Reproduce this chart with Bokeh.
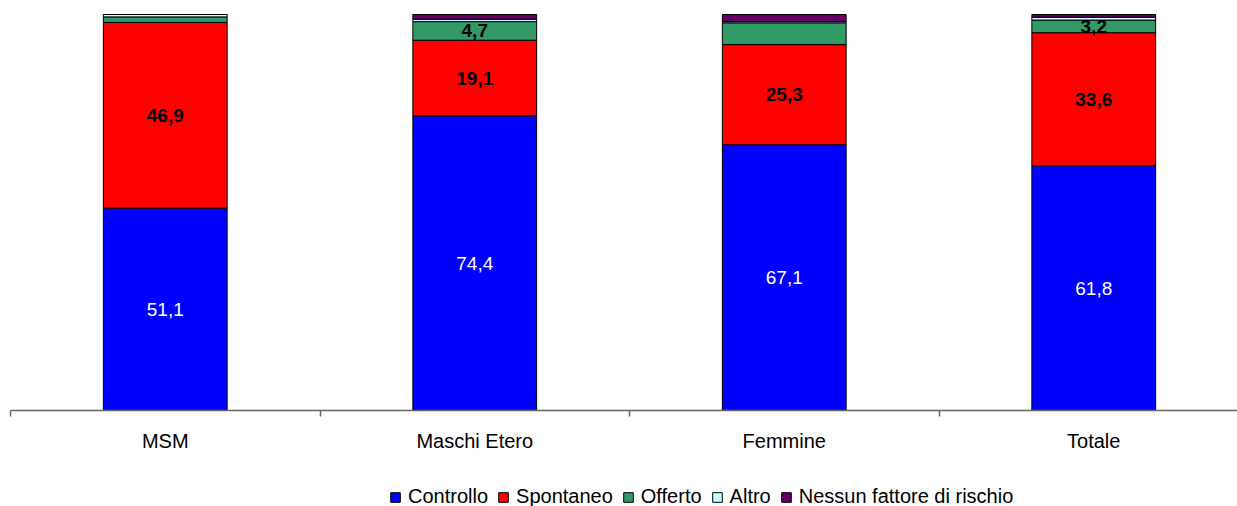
from bokeh.plotting import figure
from bokeh.layouts import column
from bokeh.models import ColumnDataSource, Range1d, FixedTicker, Legend, LegendItem
from bokeh.core.properties import value
from bokeh.embed import file_html
from bokeh.resources import INLINE

# Distribution of test reasons by group (percent)
categories = ["MSM", "Maschi Etero", "Femmine", "Totale"]
controllo = [51.1, 74.4, 67.1, 61.8]
spontaneo = [46.9, 19.1, 25.3, 33.6]
offerto = [1.4, 4.7, 5.5, 3.2]
altro = [0.6, 0.6, 0.3, 0.7]
nessun = [0.0, 1.2, 1.8, 0.7]
offerto_labelled = [False, True, False, True]

series = ["controllo", "spontaneo", "offerto", "altro", "nessun"]
series_names = ["Controllo", "Spontaneo", "Offerto", "Altro", "Nessun fattore di rischio"]
colors = ["#0000FF", "#FF0000", "#339966", "#CCFFFF", "#660066"]

xs = [i + 0.5 for i in range(len(categories))]
src = ColumnDataSource(dict(x=xs, controllo=controllo, spontaneo=spontaneo,
                            offerto=offerto, altro=altro, nessun=nessun))

FONT = "Liberation Sans"

p = figure(width=1237, height=476, output_backend="svg", toolbar_location=None,
           x_range=Range1d(0, 1227 / 309.5), y_range=Range1d(0, 100 * 410 / 396),
           min_border_left=10, min_border_right=0, min_border_top=0,
           min_border_bottom=66)
p.outline_line_color = None
p.xgrid.visible = False
p.ygrid.visible = False
p.yaxis.visible = False

p.vbar_stack(series, x="x", width=0.4, source=src, color=colors,
             line_color="black", line_width=1)


def fmt(v):
    return f"{v:.1f}".replace(".", ",")


# value labels centred in their segments
lab_x, lab_y, lab_t = [], [], []
for i, x in enumerate(xs):
    lab_x.append(x)
    lab_y.append(controllo[i] / 2)
    lab_t.append(fmt(controllo[i]))
p.text(x=lab_x, y=lab_y, text=lab_t, text_color="white", text_align="center",
       text_baseline="middle", text_font=value(FONT), text_font_size="19px")

bx, by, bt = [], [], []
for i, x in enumerate(xs):
    bx.append(x)
    by.append(controllo[i] + spontaneo[i] / 2)
    bt.append(fmt(spontaneo[i]))
    if offerto_labelled[i]:
        bx.append(x)
        by.append(controllo[i] + spontaneo[i] + offerto[i] / 2)
        bt.append(fmt(offerto[i]))
p.text(x=bx, y=by, text=bt, text_color="black", text_align="center",
       text_baseline="middle", text_font=value(FONT), text_font_size="19px",
       text_font_style="bold")

# category axis: labels at bar centres, tick marks at category boundaries
ax = p.xaxis[0]
ax.ticker = FixedTicker(ticks=xs, minor_ticks=list(range(len(categories) + 1)))
ax.major_label_overrides = {x: c for x, c in zip(xs, categories)}
ax.major_tick_out = 0
ax.major_tick_in = 0
ax.minor_tick_out = 6
ax.minor_tick_in = 0
ax.axis_line_color = "#666666"
ax.axis_line_width = 1.5
ax.minor_tick_line_color = "#666666"
ax.minor_tick_line_width = 1.5
ax.major_label_text_font = FONT
ax.major_label_text_font_size = "20px"
ax.major_label_text_color = "black"
ax.major_label_standoff = 13

# legend strip underneath the chart; its stacked bars lie entirely outside
# the visible ranges so only the legend swatches show
leg = figure(width=1237, height=30, output_backend="svg", toolbar_location=None,
             x_range=Range1d(100, 101), y_range=Range1d(1000, 1001),
             min_border_left=0, min_border_right=0, min_border_top=0,
             min_border_bottom=0)
leg.outline_line_color = None
leg.axis.visible = False
leg.grid.visible = False
swatches = leg.vbar_stack(series, x="x", width=0.4, source=src, color=colors,
                          line_color="black", line_width=1)

lg = Legend(items=[LegendItem(label=n, renderers=[r]) for n, r in zip(series_names, swatches)],
            orientation="horizontal", location=(379, -2), padding=0, margin=0,
            spacing=9, glyph_width=12, glyph_height=12, label_standoff=7,
            label_text_font=FONT, label_text_font_size="20px", label_height=20,
            label_text_color="black",
            border_line_color=None, background_fill_alpha=0)
leg.add_layout(lg, "center")

open("out.html", "w").write(file_html(column(p, leg, spacing=0), INLINE))
